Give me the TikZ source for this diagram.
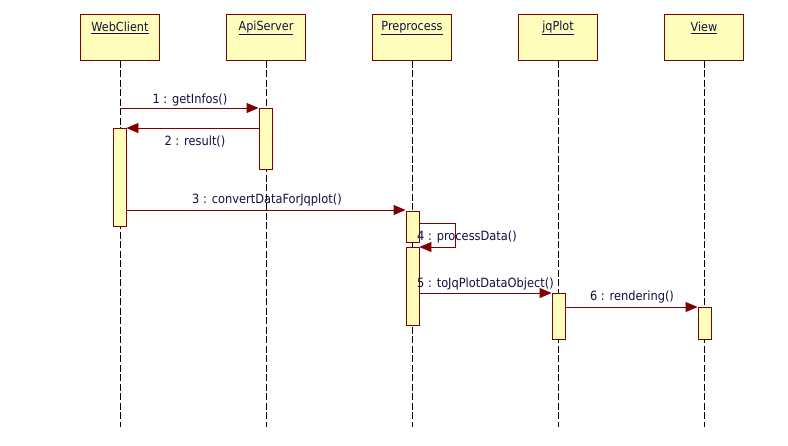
\documentclass[tikz,border=0pt]{standalone}
\usepackage{fontspec}
\setmainfont{DejaVu Sans Condensed}
\usetikzlibrary{arrows.meta}
\definecolor{umlred}{HTML}{800000}
\definecolor{umlfill}{HTML}{FFFFBB}
\definecolor{umltext}{HTML}{101040}
\tikzset{
  obj/.style={draw=umlred, fill=umlfill, line width=1pt, minimum width=79pt, minimum height=46pt, inner sep=0pt},
  act/.style={draw=umlred, fill=umlfill, line width=0.9pt, minimum width=13pt, inner sep=0pt},
  life/.style={line width=1pt, dash pattern=on 7pt off 2.5pt},
  msg/.style={draw=umlred, line width=0.9pt, -{Triangle[length=12pt,width=10pt]}, color=umlred},
  lbl/.style={font=\fontsize{12.7}{14}\selectfont, text=umltext, inner sep=0pt},
  ttl/.style={font=\fontsize{12.5}{14}\selectfont, text=umltext, inner sep=0pt}
}
\begin{document}
\begin{tikzpicture}[x=1pt,y=-1pt]
\useasboundingbox (0,0) rectangle (788,445);
% objects
\foreach \n/\x/\t in {wc/120/WebClient, api/266/ApiServer, pre/412/Preprocess, jq/558/jqPlot, view/704/View}{
  \node[obj] (\n) at (\x,37) {};
  \node[ttl] (\n t) at (\x,28) {\underline{\t}};
  \coordinate (\n e) at (\x,427);
}
% lifelines
\foreach \n in {wc,api,pre,jq,view}{
  \draw[life] (\n.south) -- (\n e);
}
% activations
\node[act, minimum height=61pt] (a1) at (265.5,138.5) {};
\node[act, minimum height=98pt] (a2) at (119.5,177) {};
\node[act, minimum height=31pt] (a3) at (412.5,226.5) {};
\node[act, minimum height=78pt] (a4) at (412.5,286) {};
\node[act, minimum height=46pt] (a5) at (558.5,316) {};
\node[act, minimum height=32pt] (a6) at (704.5,323) {};
% messages
\coordinate (m1s) at (120,108);
\draw[msg] (m1s) -- (a1.west |- m1s);
\node[lbl] (l1) at (190,100) {1 : getInfos()};
\coordinate (m2s) at (259,128);
\draw[msg] (a1.west |- m2s) -- (a2.east |- m2s);
\node[lbl] (l2) at (195,142) {2 : result()};
\coordinate (m3s) at (126,210);
\draw[msg] (a2.east |- m3s) -- (a3.west |- m3s);
\node[lbl] (l3) at (267,200) {3 : convertDataForJqplot()};
\coordinate (m4a) at (455,223);
\coordinate (m4b) at (455,247);
\draw[msg] (a3.east |- m4a) -- (m4a) -- (m4b) -- (a4.east |- m4b);
\node[lbl, anchor=west] (l4) at (417,237) {4 : processData()};
\coordinate (m5s) at (419,293);
\draw[msg] (a4.east |- m5s) -- (a5.west |- m5s);
\node[lbl, anchor=west] (l5) at (417,284) {5 : toJqPlotDataObject()};
\coordinate (m6s) at (565,307);
\draw[msg] (a5.east |- m6s) -- (a6.west |- m6s);
\node[lbl] (l6) at (632,297) {6 : rendering()};
\end{tikzpicture}
\end{document}
